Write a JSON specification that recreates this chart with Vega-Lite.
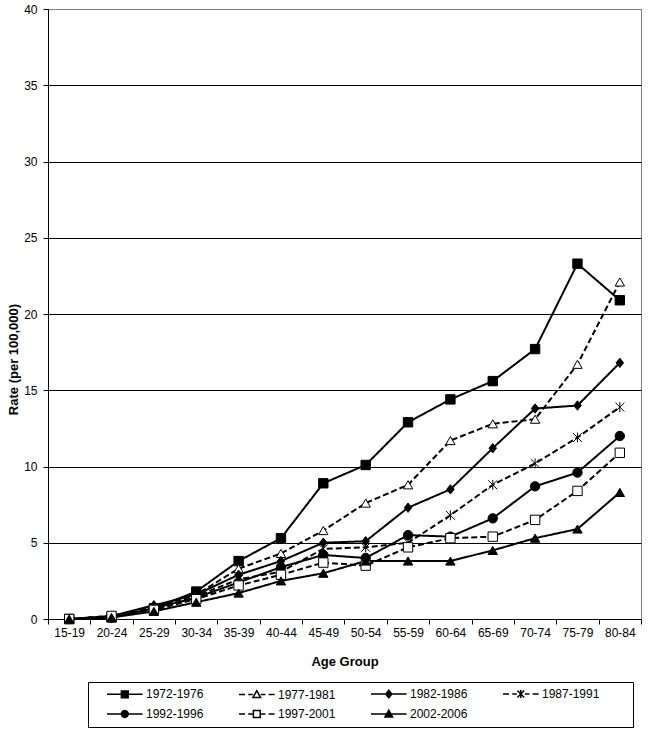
{
  "$schema": "https://vega.github.io/schema/vega-lite/v6.json",
  "width": 593,
  "height": 610,
  "autosize": {"type": "none"},
  "padding": {"left": 48, "top": 9, "right": 9, "bottom": 110},
  "background": "white",
  "config": {
    "font": "Liberation Sans",
    "view": {"stroke": "#808080", "strokeWidth": 1},
    "legend": {
      "orient": "none",
      "legendX": 40,
      "legendY": 673,
      "direction": "horizontal",
      "columns": 4,
      "titleOrient": "right",
      "titlePadding": 28,
      "titleFontSize": 12,
      "padding": 6,
      "rowPadding": 6,
      "columnPadding": 22,
      "strokeColor": "black",
      "fillColor": "white",
      "symbolSize": 64,
      "symbolStrokeWidth": 1.5,
      "symbolStrokeColor": "black",
      "symbolOpacity": 1,
      "labelFontSize": 12,
      "labelColor": "black",
      "labelOffset": 40
    }
  },
  "data": {
    "values": [
      {"age": "15-19", "series": "1972-1976", "rate": 0},
      {"age": "20-24", "series": "1972-1976", "rate": 0.1},
      {"age": "25-29", "series": "1972-1976", "rate": 0.7},
      {"age": "30-34", "series": "1972-1976", "rate": 1.8},
      {"age": "35-39", "series": "1972-1976", "rate": 3.8},
      {"age": "40-44", "series": "1972-1976", "rate": 5.3},
      {"age": "45-49", "series": "1972-1976", "rate": 8.9},
      {"age": "50-54", "series": "1972-1976", "rate": 10.1},
      {"age": "55-59", "series": "1972-1976", "rate": 12.9},
      {"age": "60-64", "series": "1972-1976", "rate": 14.4},
      {"age": "65-69", "series": "1972-1976", "rate": 15.6},
      {"age": "70-74", "series": "1972-1976", "rate": 17.7},
      {"age": "75-79", "series": "1972-1976", "rate": 23.3},
      {"age": "80-84", "series": "1972-1976", "rate": 20.9},
      {"age": "15-19", "series": "1977-1981", "rate": 0},
      {"age": "20-24", "series": "1977-1981", "rate": 0.2},
      {"age": "25-29", "series": "1977-1981", "rate": 0.8},
      {"age": "30-34", "series": "1977-1981", "rate": 1.6},
      {"age": "35-39", "series": "1977-1981", "rate": 3.3},
      {"age": "40-44", "series": "1977-1981", "rate": 4.3},
      {"age": "45-49", "series": "1977-1981", "rate": 5.8},
      {"age": "50-54", "series": "1977-1981", "rate": 7.6},
      {"age": "55-59", "series": "1977-1981", "rate": 8.8},
      {"age": "60-64", "series": "1977-1981", "rate": 11.7},
      {"age": "65-69", "series": "1977-1981", "rate": 12.8},
      {"age": "70-74", "series": "1977-1981", "rate": 13.1},
      {"age": "75-79", "series": "1977-1981", "rate": 16.7},
      {"age": "80-84", "series": "1977-1981", "rate": 22.1},
      {"age": "15-19", "series": "1982-1986", "rate": 0},
      {"age": "20-24", "series": "1982-1986", "rate": 0.2},
      {"age": "25-29", "series": "1982-1986", "rate": 0.9},
      {"age": "30-34", "series": "1982-1986", "rate": 1.6},
      {"age": "35-39", "series": "1982-1986", "rate": 2.9},
      {"age": "40-44", "series": "1982-1986", "rate": 3.8},
      {"age": "45-49", "series": "1982-1986", "rate": 5.0},
      {"age": "50-54", "series": "1982-1986", "rate": 5.1},
      {"age": "55-59", "series": "1982-1986", "rate": 7.3},
      {"age": "60-64", "series": "1982-1986", "rate": 8.5},
      {"age": "65-69", "series": "1982-1986", "rate": 11.2},
      {"age": "70-74", "series": "1982-1986", "rate": 13.8},
      {"age": "75-79", "series": "1982-1986", "rate": 14.0},
      {"age": "80-84", "series": "1982-1986", "rate": 16.8},
      {"age": "15-19", "series": "1987-1991", "rate": 0},
      {"age": "20-24", "series": "1987-1991", "rate": 0.1},
      {"age": "25-29", "series": "1987-1991", "rate": 0.7},
      {"age": "30-34", "series": "1987-1991", "rate": 1.5},
      {"age": "35-39", "series": "1987-1991", "rate": 2.6},
      {"age": "40-44", "series": "1987-1991", "rate": 3.1},
      {"age": "45-49", "series": "1987-1991", "rate": 4.6},
      {"age": "50-54", "series": "1987-1991", "rate": 4.7},
      {"age": "55-59", "series": "1987-1991", "rate": 5.0},
      {"age": "60-64", "series": "1987-1991", "rate": 6.8},
      {"age": "65-69", "series": "1987-1991", "rate": 8.8},
      {"age": "70-74", "series": "1987-1991", "rate": 10.2},
      {"age": "75-79", "series": "1987-1991", "rate": 11.9},
      {"age": "80-84", "series": "1987-1991", "rate": 13.9},
      {"age": "15-19", "series": "1992-1996", "rate": 0},
      {"age": "20-24", "series": "1992-1996", "rate": 0.1},
      {"age": "25-29", "series": "1992-1996", "rate": 0.7},
      {"age": "30-34", "series": "1992-1996", "rate": 1.4},
      {"age": "35-39", "series": "1992-1996", "rate": 2.4},
      {"age": "40-44", "series": "1992-1996", "rate": 3.4},
      {"age": "45-49", "series": "1992-1996", "rate": 4.2},
      {"age": "50-54", "series": "1992-1996", "rate": 4.0},
      {"age": "55-59", "series": "1992-1996", "rate": 5.5},
      {"age": "60-64", "series": "1992-1996", "rate": 5.4},
      {"age": "65-69", "series": "1992-1996", "rate": 6.6},
      {"age": "70-74", "series": "1992-1996", "rate": 8.7},
      {"age": "75-79", "series": "1992-1996", "rate": 9.6},
      {"age": "80-84", "series": "1992-1996", "rate": 12.0},
      {"age": "15-19", "series": "1997-2001", "rate": 0},
      {"age": "20-24", "series": "1997-2001", "rate": 0.2},
      {"age": "25-29", "series": "1997-2001", "rate": 0.6},
      {"age": "30-34", "series": "1997-2001", "rate": 1.3},
      {"age": "35-39", "series": "1997-2001", "rate": 2.2},
      {"age": "40-44", "series": "1997-2001", "rate": 2.9},
      {"age": "45-49", "series": "1997-2001", "rate": 3.7},
      {"age": "50-54", "series": "1997-2001", "rate": 3.5},
      {"age": "55-59", "series": "1997-2001", "rate": 4.7},
      {"age": "60-64", "series": "1997-2001", "rate": 5.3},
      {"age": "65-69", "series": "1997-2001", "rate": 5.4},
      {"age": "70-74", "series": "1997-2001", "rate": 6.5},
      {"age": "75-79", "series": "1997-2001", "rate": 8.4},
      {"age": "80-84", "series": "1997-2001", "rate": 10.9},
      {"age": "15-19", "series": "2002-2006", "rate": 0},
      {"age": "20-24", "series": "2002-2006", "rate": 0.1},
      {"age": "25-29", "series": "2002-2006", "rate": 0.5},
      {"age": "30-34", "series": "2002-2006", "rate": 1.1},
      {"age": "35-39", "series": "2002-2006", "rate": 1.7},
      {"age": "40-44", "series": "2002-2006", "rate": 2.5},
      {"age": "45-49", "series": "2002-2006", "rate": 3.0},
      {"age": "50-54", "series": "2002-2006", "rate": 3.8},
      {"age": "55-59", "series": "2002-2006", "rate": 3.8},
      {"age": "60-64", "series": "2002-2006", "rate": 3.8},
      {"age": "65-69", "series": "2002-2006", "rate": 4.5},
      {"age": "70-74", "series": "2002-2006", "rate": 5.3},
      {"age": "75-79", "series": "2002-2006", "rate": 5.9},
      {"age": "80-84", "series": "2002-2006", "rate": 8.3}
    ]
  },
  "encoding": {
    "x": {
      "field": "age",
      "type": "ordinal",
      "sort": null,
      "bandPosition": 0.5,
      "scale": {"type": "band", "paddingInner": 0, "paddingOuter": 0},
      "axis": {
        "title": "Age Group",
        "titleFontSize": 13,
        "titleFontWeight": "bold",
        "titleColor": "black",
        "titlePadding": 17,
        "labelAngle": 0,
        "labelFontSize": 12,
        "labelColor": "black",
        "labelPadding": 3,
        "domainColor": "black",
        "tickColor": "black",
        "tickSize": 5,
        "tickBand": "extent",
        "grid": false
      }
    },
    "y": {
      "field": "rate",
      "type": "quantitative",
      "scale": {"domain": [0, 40], "nice": false},
      "axis": {
        "title": "Rate (per 100,000)",
        "values": [0, 5, 10, 15, 20, 25, 30, 35, 40],
        "grid": true,
        "gridColor": {"condition": {"test": "datum.value === 40", "value": "#808080"}, "value": "black"},
        "gridWidth": 1,
        "domainColor": "black",
        "tickColor": "black",
        "tickSize": 5,
        "labelFontSize": 12,
        "labelColor": "black",
        "labelPadding": 6,
        "titleFontSize": 13,
        "titleFontWeight": "bold",
        "titleColor": "black",
        "titlePadding": 3,
        "titleY": 350
      }
    }
  },
  "layer": [
    {
      "mark": {"type": "line", "strokeWidth": 2},
      "encoding": {
        "strokeDash": {
          "field": "series",
          "type": "nominal",
          "scale": {"range": [[1, 0], [6, 3], [1, 0], [6, 3], [1, 0], [6, 3], [1, 0]]},
          "legend": null
        },
        "color": {
          "field": "series",
          "type": "nominal",
          "scale": {
            "domain": ["1972-1976", "1977-1981", "1982-1986", "1987-1991", "1992-1996", "1997-2001", "2002-2006"],
            "range": ["black", "black", "black", "black", "black", "black", "black"]
          },
          "legend": {
            "title": "\u00a0",
            "symbolStrokeWidth": 1.5,
            "encode": {
              "symbols": {
                "update": {
                  "shape": {"signal": "datum.value === '1972-1976' ? 'M1.75,0H10.65M5.35,-0.85H7.05V0.85H5.35Z' : datum.value === '1977-1981' ? 'M1.75,0H3.25M4.05,0H5.2M7.2,0H8.35M9.15,0H10.65M6.2,-0.95L7.15,0.75H5.25Z' : datum.value === '1982-1986' ? 'M1.75,0H10.65M6.2,-0.95L6.95,0L6.2,0.95L5.45,0Z' : datum.value === '1987-1991' ? 'M1.75,0H3.25M4.05,0H5.2M7.2,0H8.35M9.15,0H10.65M5.35,-0.85L7.05,0.85M5.35,0.85L7.05,-0.85M6.2,-1V1' : datum.value === '1992-1996' ? 'M1.75,0H10.65M7.05,0A0.85,0.85 0 1,1 5.35,0A0.85,0.85 0 1,1 7.05,0Z' : datum.value === '1997-2001' ? 'M1.75,0H3.25M4.05,0H5.2M7.2,0H8.35M9.15,0H10.65M5.35,-0.85H7.05V0.85H5.35Z' : 'M1.75,0H10.65M6.2,-0.95L7.15,0.75H5.25Z'"},
                  "fill": {"signal": "indexof(['1977-1981','1987-1991','1997-2001'], datum.value) >= 0 ? 'white' : 'black'"},
                  "strokeWidth": {"value": 1.5},
                  "strokeDash": {"value": [1, 0]},
                  "opacity": {"value": 1}
                }
              }
            }
          }
        }
      }
    },
    {
      "mark": {"type": "point", "filled": true, "stroke": "black", "strokeWidth": 1, "size": 88, "opacity": 1},
      "encoding": {
        "fill": {
          "field": "series",
          "type": "nominal",
          "scale": {"range": ["black", "white", "black", "white", "black", "white", "black"]},
          "legend": null
        },
        "shape": {
          "field": "series",
          "type": "nominal",
          "scale": {"range": ["square", "triangle-up", "M0,-1L0.8,0L0,1L-0.8,0Z", "M-0.95,-0.95L0.95,0.95M-0.95,0.95L0.95,-0.95M0,-1.05V1.05", "circle", "square", "triangle-up"]},
          "legend": null
        }
      }
    }
  ]
}
